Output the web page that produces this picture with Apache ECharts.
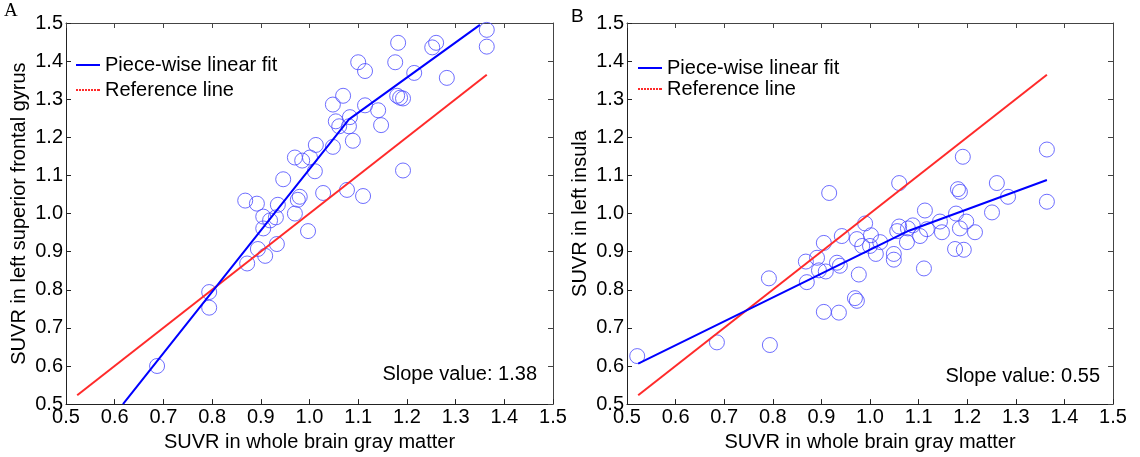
<!DOCTYPE html>
<html>
<head>
    <meta charset="utf-8">
    <title>SUVR piece-wise fit</title>
    <script src="https://cdn.jsdelivr.net/npm/echarts@6/dist/echarts.min.js"></script>
    <style>
        html, body {margin:0;padding:0;background:#fff;}
        #main {width:1140px;height:457px;}
    </style>
</head>
<body>
<div id="main"></div>
<script>
    // panel A: left superior frontal gyrus
    var leftX = [1.364,1.364,1.182,1.252,1.260,1.176,1.100,1.114,1.215,1.282,
                 1.069,1.048,1.180,1.186,1.192,1.114,1.141,1.147,1.083,1.054,
                 1.061,1.081,1.089,1.048,1.013,1.001,0.985,0.970,1.011,1.192,
                 0.946,1.077,1.028,1.110,0.980,0.976,0.868,0.892,0.935,0.905,
                 0.931,0.919,0.970,0.905,0.997,0.933,0.894,0.909,0.872,0.794,
                 0.794,0.687];
    var leftY = [1.482,1.438,1.448,1.436,1.448,1.397,1.397,1.374,1.369,1.356,
                 1.309,1.286,1.309,1.304,1.302,1.284,1.271,1.232,1.253,1.242,
                 1.229,1.229,1.191,1.175,1.180,1.147,1.139,1.147,1.111,1.113,
                 1.090,1.062,1.054,1.046,1.044,1.036,1.034,1.026,1.023,0.992,
                 0.990,0.982,1.000,0.961,0.954,0.920,0.907,0.889,0.869,0.794,
                 0.753,0.600];
    var leftFitX = [0.617, 1.081, 1.350];
    var leftFitY = [0.500, 1.247, 1.495];
    var leftRefX = [0.523, 1.364];
    var leftRefY = [0.523, 1.364];

    // panel B: left insula
    var rightX = [0.521,0.685,0.794,0.792,0.916,0.905,0.936,0.969,0.973,0.868,
                  0.870,0.891,0.905,0.895,0.909,0.932,0.938,0.942,0.977,0.990,
                  0.973,0.984,1.000,1.002,1.012,1.021,1.049,1.049,1.056,1.060,
                  1.078,1.088,1.076,1.103,1.113,1.111,1.060,1.364,1.364,1.191,
                  1.261,1.181,1.185,1.284,1.251,1.177,1.198,1.185,1.216,1.144,
                  1.148,1.117,1.175,1.193];
    var rightY = [0.626,0.662,0.655,0.830,1.054,0.742,0.740,0.778,0.771,0.874,
                  0.820,0.884,0.923,0.851,0.848,0.871,0.863,0.941,0.840,0.974,
                  0.933,0.915,0.915,0.943,0.894,0.925,0.894,0.879,0.954,0.966,
                  0.961,0.969,0.925,0.941,1.008,0.856,1.080,1.168,1.031,1.149,
                  1.080,1.064,1.057,1.044,1.003,1.000,0.979,0.961,0.951,0.979,
                  0.951,0.959,0.907,0.905];
    var rightFitX = [0.523, 1.080, 1.364];
    var rightFitY = [0.606, 0.955, 1.088];
    var rightRefX = [0.523, 1.364];
    var rightRefY = [0.523, 1.364];

    var ticks = ['0.5','0.6','0.7','0.8','0.9','1.0','1.1','1.2','1.3','1.4','1.5'];
    var slopes = ['Slope value: 1.38', 'Slope value: 0.55'];

    function zip(xs, ys) {
        return xs.map(function (x, i) { return [x, ys[i]]; });
    }

    var font = 'Liberation Sans, Arial, sans-serif';
    var black = '#000';
    var fs = 20;

    function mainAxis(grid, pos, name, gap) {
        return {
            type: 'value', gridIndex: grid, position: pos,
            min: 0.5, max: 1.5, interval: 0.1,
            name: name, nameLocation: 'middle', nameGap: gap,
            nameTextStyle: {color: black, fontSize: fs, fontFamily: font},
            axisLine: {show: true, onZero: false, lineStyle: {color: '#222', width: 1}},
            axisTick: {show: true, inside: true, length: 5, lineStyle: {color: '#222'}},
            axisLabel: {
                show: true, color: black, fontSize: fs, fontFamily: font, margin: 3,
                formatter: function (v) { return ticks[Math.round((v - 0.5) * 10)]; }
            },
            splitLine: {show: false}
        };
    }
    function boxAxis(grid, pos) {
        return {
            type: 'value', gridIndex: grid, position: pos,
            min: 0.5, max: 1.5, interval: 0.1,
            axisLine: {show: true, onZero: false, lineStyle: {color: '#444', width: 1}},
            axisTick: {show: true, inside: true, length: 5, lineStyle: {color: '#444'}},
            axisLabel: {show: false},
            splitLine: {show: false}
        };
    }

    // legend icons: solid bar for the fit, short dashes for the reference line
    var dashIcon = 'path://M0,0h2v2h-2zM3,0h2v2h-2zM6,0h2v2h-2zM9,0h2v2h-2zM12,0h2v2h-2zM15,0h2v2h-2zM18,0h2v2h-2zM21,0h3v2h-3z';
    function legendData() {
        return [
            {name: 'Piece-wise linear fit', icon: 'rect'},
            {name: 'Reference line', icon: dashIcon}
        ];
    }

    var scatterStyle = {color: 'transparent', borderColor: '#4a4aff', borderWidth: 1};
    var blueLine = {color: '#0000ff', width: 2};
    var redLine = {color: '#ff2a2a', width: 2};

    var chart = echarts.init(document.getElementById('main'));
    chart.setOption({
        animation: false,
        backgroundColor: '#fff',
        grid: [
            {left: 66, top: 23, width: 487, height: 388},
            {left: 627, top: 23, width: 486, height: 388}
        ],
        xAxis: [
            mainAxis(0, 'bottom', 'SUVR in whole brain gray matter', 22),
            boxAxis(0, 'top'),
            mainAxis(1, 'bottom', 'SUVR in whole brain gray matter', 22),
            boxAxis(1, 'top')
        ],
        yAxis: [
            mainAxis(0, 'left', 'SUVR in left superior frontal gyrus', 37),
            boxAxis(0, 'right'),
            mainAxis(1, 'left', 'SUVR in left insula', 37),
            boxAxis(1, 'right')
        ],
        legend: [
            {
                orient: 'vertical', left: 71, top: 50, itemGap: 5,
                itemWidth: 24, itemHeight: 2,
                textStyle: {color: black, fontSize: fs, fontFamily: font},
                data: legendData()
            },
            {
                orient: 'vertical', left: 633, top: 53, itemGap: 1,
                itemWidth: 24, itemHeight: 2,
                textStyle: {color: black, fontSize: fs, fontFamily: font},
                data: legendData()
            }
        ],
        graphic: [
            {type: 'text', left: 4, top: 2, style: {text: 'A', fill: black, font: '19px Liberation Serif, Times New Roman, serif'}},
            {type: 'text', left: 571, top: 7, style: {text: 'B', fill: black, font: '19px ' + font}},
            {type: 'text', right: 603, top: 364, style: {text: slopes[0], fill: black, font: fs + 'px ' + font}},
            {type: 'text', right: 40, top: 366, style: {text: slopes[1], fill: black, font: fs + 'px ' + font}}
        ],
        series: [
            {
                name: 'data A', type: 'scatter', xAxisIndex: 0, yAxisIndex: 0,
                symbol: 'circle', symbolSize: 15, itemStyle: scatterStyle,
                data: zip(leftX, leftY)
            },
            {
                name: 'Reference line', type: 'line', xAxisIndex: 0, yAxisIndex: 0,
                symbol: 'none', lineStyle: redLine, itemStyle: {color: '#ff2a2a'},
                data: zip(leftRefX, leftRefY)
            },
            {
                name: 'Piece-wise linear fit', type: 'line', xAxisIndex: 0, yAxisIndex: 0,
                symbol: 'none', lineStyle: blueLine, itemStyle: {color: '#0000ff'},
                data: zip(leftFitX, leftFitY)
            },
            {
                name: 'data B', type: 'scatter', xAxisIndex: 2, yAxisIndex: 2,
                symbol: 'circle', symbolSize: 15, itemStyle: scatterStyle,
                data: zip(rightX, rightY)
            },
            {
                name: 'Reference line', type: 'line', xAxisIndex: 2, yAxisIndex: 2,
                symbol: 'none', lineStyle: redLine, itemStyle: {color: '#ff2a2a'},
                data: zip(rightRefX, rightRefY)
            },
            {
                name: 'Piece-wise linear fit', type: 'line', xAxisIndex: 2, yAxisIndex: 2,
                symbol: 'none', lineStyle: blueLine, itemStyle: {color: '#0000ff'},
                data: zip(rightFitX, rightFitY)
            }
        ]
    });
</script>
</body>
</html>
